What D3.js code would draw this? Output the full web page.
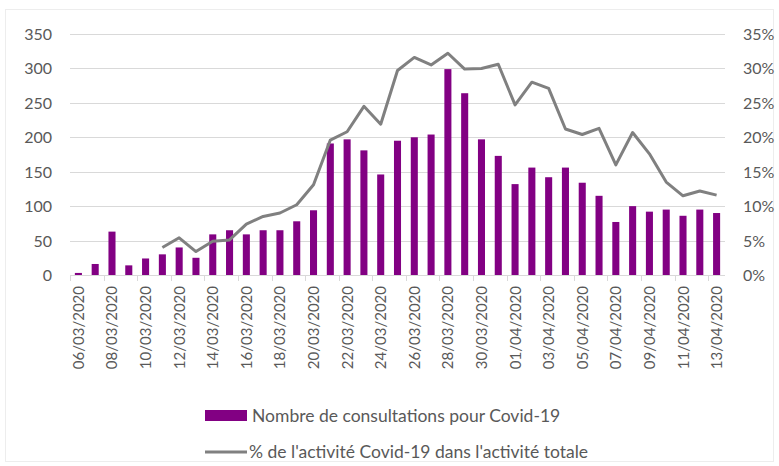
<!DOCTYPE html>
<meta charset="utf-8">
<style>
    body { margin: 0; background: #fff; }
    text { font-family: Lato, "Open Sans", sans-serif; fill: #595959; }
</style>
<body>
    <div id="chart"></div>
</body>
<script src="https://cdn.jsdelivr.net/npm/d3@7"></script>
<script>
    var svg_width = 779,
        svg_height = 466;

    // one category per day, label shown every 2nd day
    const dates = ["06/03/2020", "07/03/2020", "08/03/2020", "09/03/2020", "10/03/2020",
        "11/03/2020", "12/03/2020", "13/03/2020", "14/03/2020", "15/03/2020",
        "16/03/2020", "17/03/2020", "18/03/2020", "19/03/2020", "20/03/2020",
        "21/03/2020", "22/03/2020", "23/03/2020", "24/03/2020", "25/03/2020",
        "26/03/2020", "27/03/2020", "28/03/2020", "29/03/2020", "30/03/2020",
        "31/03/2020", "01/04/2020", "02/04/2020", "03/04/2020", "04/04/2020",
        "05/04/2020", "06/04/2020", "07/04/2020", "08/04/2020", "09/04/2020",
        "10/04/2020", "11/04/2020", "12/04/2020", "13/04/2020"];

    const consultations = [3, 16, 63, 14, 24, 30, 40, 25, 59, 65,
        59, 65, 65, 78, 94, 191, 197, 181, 146, 195,
        200, 204, 299, 264, 197, 173, 132, 156, 142, 156,
        134, 115, 77, 100, 92, 95, 86, 95, 90];

    // share of covid activity, in %
    const share = [null, null, null, null, null, 4.0, 5.4, 3.4, 4.9, 5.1,
        7.4, 8.5, 9.0, 10.2, 13.1, 19.6, 20.8, 24.5, 21.9, 29.7,
        31.6, 30.5, 32.2, 29.9, 30.0, 30.6, 24.7, 28.0, 27.1, 21.2,
        20.4, 21.3, 16.0, 20.7, 17.6, 13.5, 11.5, 12.2, 11.6];

    const leftTicks = [0, 50, 100, 150, 200, 250, 300, 350];
    const rightTicks = [0, 5, 10, 15, 20, 25, 30, 35];

    const legendLabels = ["Nombre de consultations pour Covid-19",
        "% de l'activité Covid-19 dans l'activité totale"];

    var plot = { left: 70, right: 725, top: 34, bottom: 275 };

    var svg = d3.select("#chart").append("svg")
        .attr("width", svg_width)
        .attr("height", svg_height);

    // light frame round the chart
    svg.append("rect")
        .attr("x", 5.5).attr("y", 9.5)
        .attr("width", 768).attr("height", 452)
        .style("fill", "none")
        .style("stroke", "#ededed");

    var x = d3.scaleBand()
        .domain(dates)
        .range([plot.left, plot.right])
        .paddingInner(0.58)
        .paddingOuter(0.29);

    var y = d3.scaleLinear().domain([0, 350]).range([plot.bottom, plot.top]);
    var y2 = d3.scaleLinear().domain([0, 35]).range([plot.bottom, plot.top]);

    // gridlines
    svg.append("g")
        .selectAll("line")
        .data(leftTicks.slice(1))
        .enter()
            .append("line")
            .attr("x1", plot.left).attr("x2", plot.right)
            .attr("y1", function(d) { return Math.round(y(d)) + 0.5; })
            .attr("y2", function(d) { return Math.round(y(d)) + 0.5; })
            .style("stroke", "#d9d9d9");

    // left axis labels
    svg.append("g")
        .selectAll("text")
        .data(leftTicks)
        .enter()
            .append("text")
            .attr("x", 52)
            .attr("y", function(d) { return y(d) + 6; })
            .attr("text-anchor", "end")
            .style("font-size", "16px")
            .text(function(d) { return d; });

    // right axis labels
    svg.append("g")
        .selectAll("text")
        .data(rightTicks)
        .enter()
            .append("text")
            .attr("x", 743)
            .attr("y", function(d) { return y2(d) + 6; })
            .style("font-size", "16px")
            .text(function(d) { return d + "%"; });

    // bars
    svg.append("g")
        .selectAll("rect")
        .data(consultations)
        .enter()
            .append("rect")
            .attr("x", function(d, i) { return x(dates[i]); })
            .attr("width", x.bandwidth())
            .attr("y", function(d) { return y(d); })
            .attr("height", function(d) { return y(0) - y(d); })
            .style("fill", "#820083");

    // category axis
    var step = x.step();
    svg.append("line")
        .attr("x1", plot.left).attr("x2", plot.right)
        .attr("y1", plot.bottom + 0.5).attr("y2", plot.bottom + 0.5)
        .style("stroke", "#d9d9d9");

    var shown = dates.filter(function(d, i) { return i % 2 == 0; });

    svg.append("g")
        .selectAll("line")
        .data(shown)
        .enter()
            .append("line")
            .attr("x1", function(d) { return Math.round(x(d) - x.paddingOuter() * step) + 0.5; })
            .attr("x2", function(d) { return Math.round(x(d) - x.paddingOuter() * step) + 0.5; })
            .attr("y1", plot.bottom).attr("y2", plot.bottom + 6)
            .style("stroke", "#d9d9d9");

    svg.append("g")
        .selectAll("text")
        .data(shown)
        .enter()
            .append("text")
            .attr("transform", function(d) {
                return "translate(" + (x(d) + x.bandwidth() / 2 + 5.5) + "," + (plot.bottom + 11) + ") rotate(-90)";
            })
            .attr("text-anchor", "end")
            .style("font-size", "15px")
            .text(function(d) { return d; });

    // line on the right axis
    var line = d3.line()
        .defined(function(d) { return d != null; })
        .x(function(d, i) { return x(dates[i]) + x.bandwidth() / 2; })
        .y(function(d) { return y2(d); });

    svg.append("path")
        .datum(share)
        .attr("d", line)
        .style("fill", "none")
        .style("stroke", "#808080")
        .style("stroke-width", 3)
        .style("stroke-linejoin", "round");

    // legend
    var legend = svg.append("g");
    legend.append("rect")
        .attr("x", 205).attr("y", 410)
        .attr("width", 42).attr("height", 11)
        .style("fill", "#820083");
    legend.append("text")
        .attr("x", 252).attr("y", 422)
        .style("font-size", "17.5px")
        .text(legendLabels[0]);
    legend.append("line")
        .attr("x1", 205).attr("x2", 247)
        .attr("y1", 452).attr("y2", 452)
        .style("stroke", "#808080")
        .style("stroke-width", 3);
    legend.append("text")
        .attr("x", 249).attr("y", 458)
        .style("font-size", "17.5px")
        .text(legendLabels[1]);
</script>
